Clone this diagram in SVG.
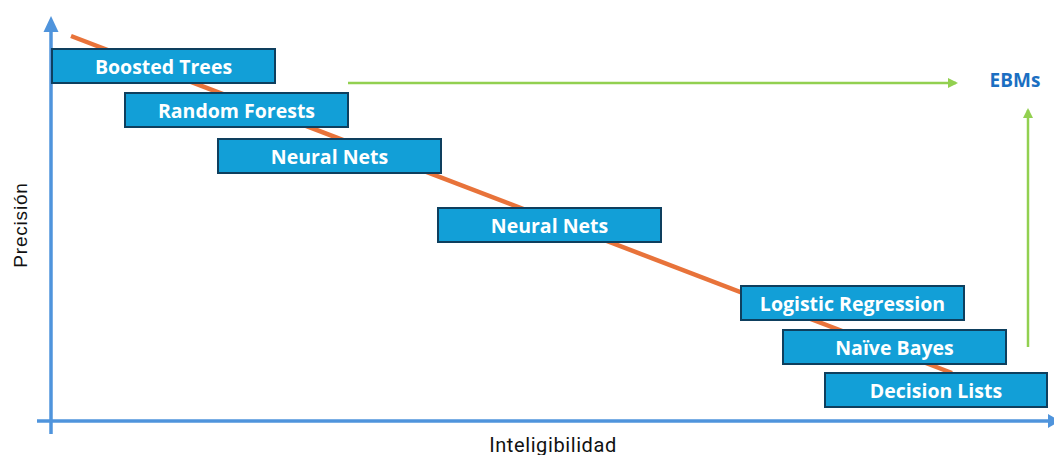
<svg xmlns="http://www.w3.org/2000/svg" width="1054" height="455" viewBox="0 0 1054 455">
<defs>
<style>
.box rect{fill:#129FD7;stroke:#0E3F5E;stroke-width:2}
.box text{fill:#fff;font-family:"Open Sans","Liberation Sans",sans-serif;font-weight:bold;font-size:19.5px;text-anchor:middle}
.axis{stroke:#4F94DC;stroke-width:3.5;fill:none}
.green{stroke:#92D050;stroke-width:2.5;fill:none}
</style>
<marker id="ga" markerWidth="10" markerHeight="10" refX="8" refY="5" orient="auto" markerUnits="userSpaceOnUse"><path d="M0,0 L10,5 L0,10 Z" fill="#92D050"/></marker>
</defs>
<rect width="1054" height="455" fill="#fff"/>
<g id="connectors">
<line class="axis" x1="51" y1="30" x2="51" y2="434"/>
<path d="M43.5,32 L51,16 L58.5,32 Z" fill="#4F94DC"/>
<line class="axis" x1="37" y1="421" x2="1050" y2="421"/>
<path d="M1048,414 L1060,421 L1048,428 Z" fill="#4F94DC"/>
<line x1="71" y1="36" x2="952" y2="373" stroke="#E8733A" stroke-width="4.5"/>
<line class="green" x1="348" y1="83" x2="956" y2="83" marker-end="url(#ga)"/>
<line class="green" x1="1028" y1="347" x2="1028" y2="110" marker-end="url(#ga)"/>
</g>
<g id="n1" class="box"><rect x="52" y="49" width="223" height="34"/><text x="163.5" y="73.5">Boosted Trees</text></g>
<g id="n2" class="box"><rect x="125" y="93" width="223" height="34"/><text x="236.5" y="117.5">Random Forests</text></g>
<g id="n3" class="box"><rect x="218" y="139" width="223" height="34"/><text x="329.5" y="163.5">Neural Nets</text></g>
<g id="n4" class="box"><rect x="438" y="208" width="223" height="34"/><text x="549.5" y="232.5">Neural Nets</text></g>
<g id="n5" class="box"><rect x="741" y="286" width="223" height="34"/><text x="852.5" y="310.5">Logistic Regression</text></g>
<g id="n6" class="box"><rect x="783" y="330" width="223" height="34"/><text x="894.5" y="354.5">Naïve Bayes</text></g>
<g id="n7" class="box"><rect x="825" y="373" width="222" height="34"/><text x="936" y="397.5">Decision Lists</text></g>
<g id="ebms"><text x="1015" y="87" font-family="Open Sans,Liberation Sans,sans-serif" font-weight="bold" font-size="19" fill="#1B6FC2" text-anchor="middle">EBMs</text></g>
<g id="ylabel"><text transform="translate(27,225) rotate(-90)" font-family="Liberation Sans,Arial,sans-serif" font-size="19" letter-spacing="0.8" fill="#111" text-anchor="middle">Precisión</text></g>
<g id="xlabel"><text x="553" y="452" font-family="Roboto,Liberation Sans,sans-serif" font-size="20" letter-spacing="0.6" fill="#111" text-anchor="middle">Inteligibilidad</text></g>
</svg>
